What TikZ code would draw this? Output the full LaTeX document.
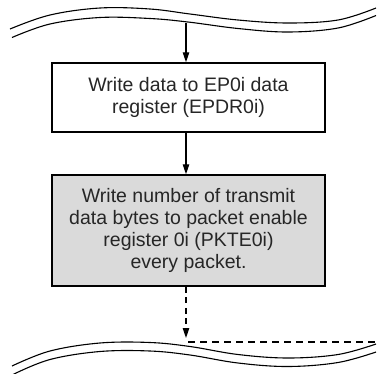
\documentclass[tikz,border=0pt]{standalone}
\usepackage{fontspec}
\setmainfont{Liberation Sans}
\usetikzlibrary{arrows.meta}
\definecolor{boxgray}{HTML}{DADADA}
\tikzset{
  stepbox/.style={draw=black, line width=1.5pt, minimum width=273pt, align=center,
    font=\fontsize{19.5}{22.3}\selectfont, text=black!85, inner sep=0pt},
  flow/.style={line width=1.1pt, -{Triangle[length=10pt,width=6.5pt]}},
  dflow/.style={flow, dash pattern=on 6pt off 4.5pt},
  wave/.style={line width=1.1pt},
}
\begin{document}
\begin{tikzpicture}[x=1pt,y=-1pt]
\useasboundingbox (0,0) rectangle (378,373);
% top break
\draw[wave] plot[smooth, tension=0.6] coordinates {(10,29) (50,15) (100,8) (150,9) (190,14) (238,20) (288,23) (338,20) (376,8)};
\draw[wave] plot[smooth, tension=0.6] coordinates {(12,37.5) (50,24) (100,17.5) (150,18.5) (188,22) (238,28.5) (288,32) (338,28) (376,15.5)};
% bottom break
\draw[wave] plot[smooth, tension=0.6] coordinates {(12,366) (50,351) (100,343) (150,342.5) (190,346.5) (238,354.5) (288,358) (338,354.5) (376,344)};
\draw[wave] plot[smooth, tension=0.6] coordinates {(13,374.5) (50,359.5) (100,351.5) (150,351) (190,355) (238,363) (288,366.5) (338,362.5) (376,352)};
% nodes
\coordinate (start) at (186,22.5);
\node[stepbox, minimum height=69pt] (b1) at (188.5,97.5) {Write data to EP0i data\\register (EPDR0i)};
\node[stepbox, minimum height=111pt, fill=boxgray] (b2) at (188.5,230.5) {Write number of transmit\\data bytes to packet enable\\register 0i (PKTE0i)\\every packet.};
\coordinate (endtip) at (186,338);
\coordinate (dl) at (188,342);
\coordinate (dr) at (375,342);
% connectors
\draw[flow] (start) -- (start |- b1.north);
\draw[flow] (start |- b1.south) -- (start |- b2.north);
\draw[dflow] (start |- b2.south) -- (endtip);
\draw[line width=1.1pt, dash pattern=on 6.5pt off 5.5pt] (dl) -- (dr);
\end{tikzpicture}
\end{document}
